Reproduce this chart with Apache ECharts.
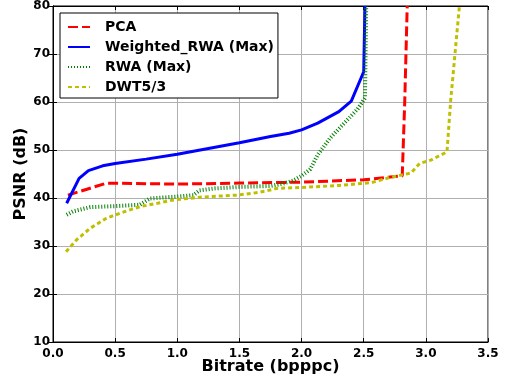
<!DOCTYPE html>
<html>
<head>
<meta charset="utf-8">
<script src="https://cdn.jsdelivr.net/npm/echarts@6/dist/echarts.min.js"></script>
<style>html,body{margin:0;padding:0;background:#fff;}#c{width:506px;height:383px;}</style>
</head>
<body>
<div id="c"></div>
<script>
const seriesNames = ['PCA', 'Weighted_RWA (Max)', 'RWA (Max)', 'DWT5/3'];
const pca = [[0.12,40.6],[0.43,43.1],[1.0,42.9],[1.5,43.1],[2.0,43.3],[2.5,43.8],[2.81,44.6],[2.83,60],[2.85,80]];
const weightedRwa = [[0.11,38.9],[0.21,44.1],[0.285,45.7],[0.40,46.7],[0.5,47.2],[0.75,48.1],[1.0,49.1],[1.25,50.3],[1.5,51.5],[1.75,52.8],[1.9,53.5],[2.0,54.2],[2.13,55.6],[2.3,58.0],[2.4,60.2],[2.5,66.3],[2.51,80]];
const rwa = [[0.11,36.5],[0.16,37.2],[0.3,38.1],[0.5,38.3],[0.7,38.6],[0.78,39.9],[1.0,40.3],[1.13,40.6],[1.18,41.6],[1.3,42.0],[1.5,42.3],[1.75,42.5],[1.85,43.0],[1.93,43.6],[2.0,44.6],[2.07,46.0],[2.13,49.0],[2.23,52.5],[2.34,55.5],[2.45,58.5],[2.51,60.8],[2.52,80]];
const dwt = [[0.105,28.8],[0.19,31.3],[0.3,33.7],[0.43,35.8],[0.57,37.1],[0.7,38.2],[0.84,38.9],[0.97,39.6],[1.2,40.2],[1.48,40.6],[1.61,41.0],[1.72,41.5],[1.8,42.0],[2.0,42.2],[2.3,42.6],[2.56,43.2],[2.7,44.2],[2.88,45.2],[2.95,47.2],[3.04,47.9],[3.17,49.6],[3.2,60.4],[3.27,80]];
const xTicks = {min: 0, max: 3.5, interval: 0.5};
const yTicks = {min: 10, max: 80, interval: 10};

const font = 'DejaVu Sans';
const chart = echarts.init(document.getElementById('c'), null, {renderer: 'canvas'});
function mkSeries(name, data, color, width, type) {
  return {name: name, type: 'line', data: data, symbol: 'none', smooth: false, animation: false,
    lineStyle: {color: color, width: width, type: type, cap: 'butt'}, itemStyle: {color: color}};
}
chart.setOption({
  animation: false,
  backgroundColor: '#fff',
  grid: {left: 53, right: 18, top: 6, bottom: 41, show: true, borderColor: '#000', borderWidth: 1},
  legend: {
    orient: 'vertical', left: 60, top: 13,
    data: seriesNames,
    backgroundColor: '#fff', borderColor: '#000', borderWidth: 1, borderRadius: 0,
    padding: [7, 4, 4, 7], itemGap: 6, itemWidth: 22, itemHeight: 14,
    itemStyle: {opacity: 0},
    textStyle: {fontFamily: font, fontWeight: 'bold', fontSize: 14, color: '#000', padding: [0, 0, 0, 10]}
  },
  xAxis: [{
    type: 'value', min: xTicks.min, max: xTicks.max, interval: xTicks.interval,
    name: 'Bitrate (bpppc)', nameLocation: 'middle', nameGap: 17, nameMoveOverlap: false,
    nameTextStyle: {fontFamily: font, fontWeight: 'bold', fontSize: 16, color: '#000'},
    axisLine: {show: true, lineStyle: {color: '#000'}},
    axisTick: {show: true, inside: true, length: 4, lineStyle: {color: '#000'}},
    axisLabel: {fontFamily: font, fontWeight: 'bold', fontSize: 12, color: '#000', margin: 6, formatter: v => v.toFixed(1)},
    splitLine: {show: true, lineStyle: {color: '#b0b0b0', width: 1}}
  }, {
    type: 'value', position: 'top', min: xTicks.min, max: xTicks.max, interval: xTicks.interval,
    axisLine: {show: true, lineStyle: {color: '#000'}},
    axisTick: {show: true, inside: true, length: 4, lineStyle: {color: '#000'}},
    axisLabel: {show: false}, splitLine: {show: false}
  }],
  yAxis: [{
    type: 'value', min: yTicks.min, max: yTicks.max, interval: yTicks.interval,
    name: 'PSNR (dB)', nameLocation: 'middle', nameGap: 24, nameMoveOverlap: false,
    nameTextStyle: {fontFamily: font, fontWeight: 'bold', fontSize: 16, color: '#000'},
    axisLine: {show: true, lineStyle: {color: '#000'}},
    axisTick: {show: true, inside: true, length: 4, lineStyle: {color: '#000'}},
    axisLabel: {fontFamily: font, fontWeight: 'bold', fontSize: 12, color: '#000', margin: 3},
    splitLine: {show: true, lineStyle: {color: '#b0b0b0', width: 1}}
  }, {
    type: 'value', position: 'right', min: yTicks.min, max: yTicks.max, interval: yTicks.interval,
    axisLine: {show: true, lineStyle: {color: '#000'}},
    axisTick: {show: true, inside: true, length: 4, lineStyle: {color: '#000'}},
    axisLabel: {show: false}, splitLine: {show: false}
  }],
  series: [
    mkSeries(seriesNames[0], pca, '#ff0000', 3, [10, 4]),
    mkSeries(seriesNames[1], weightedRwa, '#0000ff', 3, 'solid'),
    mkSeries(seriesNames[2], rwa, '#008000', 4, [1, 2]),
    mkSeries(seriesNames[3], dwt, '#bfbf00', 3, [4, 3])
  ]
});
</script>
</body>
</html>
